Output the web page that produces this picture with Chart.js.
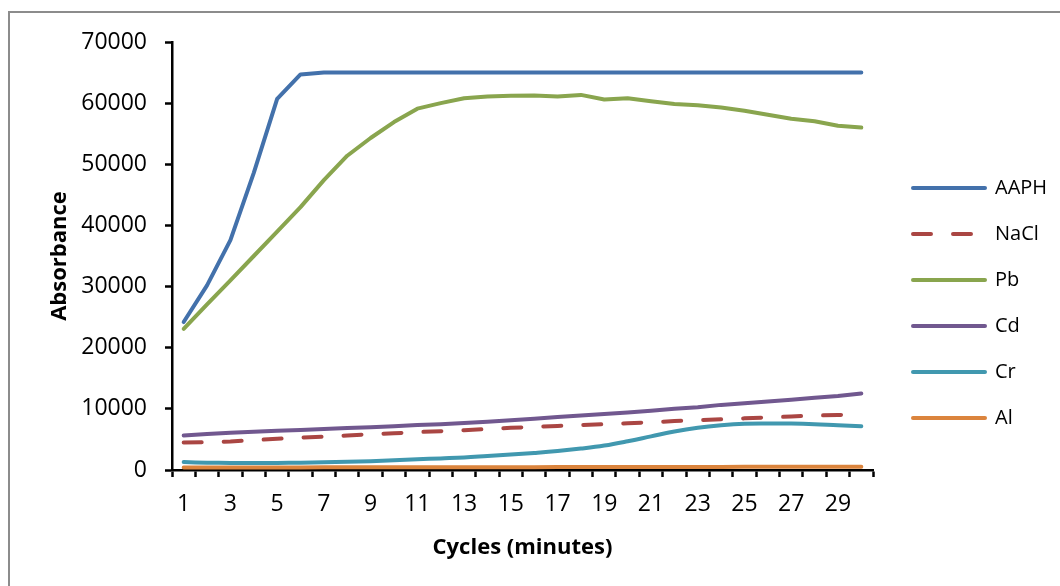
<!DOCTYPE html>
<html>
<head>
<meta charset="utf-8">
<script src="https://cdn.jsdelivr.net/npm/chart.js@4/dist/chart.umd.min.js"></script>
<style>
  html, body { margin: 0; padding: 0; background: #fff; }
  .frame {
    position: absolute; left: 8px; top: 11px;
    width: 1050px; height: 573px;
    border-left: 2px solid #8c8c8c; border-top: 2px solid #8c8c8c;
    background: #fff;
  }
  canvas { display: block; }
</style>
</head>
<body>
<div class="frame"><canvas id="absChart" width="1050" height="573"></canvas></div>
<script>
// Absorbance readings per cycle (minutes 1-30)
const cycles = Array.from({ length: 30 }, (_, i) => String(i + 1));

const aaph = [24200, 30200, 37600, 48600, 60700, 64700, 65000, 65000, 65000, 65000,
              65000, 65000, 65000, 65000, 65000, 65000, 65000, 65000, 65000, 65000,
              65000, 65000, 65000, 65000, 65000, 65000, 65000, 65000, 65000, 65000];
const nacl = [4500, 4550, 4650, 4900, 5100, 5300, 5450, 5650, 5850, 6000,
              6200, 6350, 6500, 6700, 6900, 7050, 7200, 7350, 7500, 7650,
              7800, 8000, 8150, 8300, 8450, 8600, 8750, 8900, 9000, 9100];
const pb   = [23100, 27100, 31000, 35000, 39000, 43000, 47400, 51400, 54300, 56900,
              59100, 60000, 60800, 61100, 61200, 61250, 61100, 61350, 60600, 60800,
              60300, 59850, 59650, 59300, 58750, 58100, 57450, 57050, 56300, 56000];
const cd   = [5650, 5900, 6100, 6250, 6400, 6550, 6700, 6850, 7000, 7150,
              7350, 7500, 7700, 7900, 8150, 8400, 8650, 8900, 9150, 9400,
              9700, 10000, 10250, 10650, 10900, 11200, 11500, 11800, 12100, 12500];
const cr   = [1300, 1200, 1150, 1150, 1150, 1200, 1250, 1350, 1450, 1600,
              1750, 1900, 2050, 2300, 2550, 2800, 3100, 3500, 4000, 4700,
              5500, 6300, 6900, 7300, 7550, 7600, 7600, 7500, 7300, 7150];
const al   = [400, 400, 400, 410, 420, 420, 430, 430, 440, 440,
              450, 450, 460, 460, 470, 470, 480, 480, 490, 490,
              500, 500, 510, 510, 520, 520, 530, 530, 540, 550];

const yTicks = { min: 0, max: 70000, step: 10000 };

const FONT = "'Open Sans', sans-serif";
Chart.defaults.font.family = FONT;
Chart.defaults.color = '#000';

const series = (label, data, color, extra) => Object.assign({
    label,
    data,
    borderColor: color,
    backgroundColor: color,
    borderWidth: 4,
    borderCapStyle: 'round',
    borderJoinStyle: 'round',
    pointRadius: 0,
    pointHoverRadius: 0,
    tension: 0,
    fill: false
}, extra || {});

// nudge the legend to the right of the plot without widening the gap between rows
const legendShift = {
    id: 'legendShift',
    afterLayout(chart) {
        if (chart.legend) {
            chart.legend.left += 14;
            chart.legend.right += 14;
        }
    }
};

// legend swatches: use the dataset line style (dash, width, caps)
const lineLabels = (chart) => {
    const items = Chart.defaults.plugins.legend.labels.generateLabels(chart);
    return items.map((item) => {
        const ds = chart.data.datasets[item.datasetIndex];
        return Object.assign(item, {
            lineDash: ds.borderDash || [],
            lineWidth: ds.borderWidth,
            lineCap: 'round',
            strokeStyle: ds.borderColor
        });
    });
};

new Chart(document.getElementById('absChart').getContext('2d'), {
    type: 'line',
    data: {
        labels: cycles,
        datasets: [
            series('AAPH', aaph, '#4371ab'),
            series('NaCl', nacl, '#aa4643', { borderDash: [18, 22] }),
            series('Pb', pb, '#89a54e'),
            series('Cd', cd, '#71588f'),
            series('Cr', cr, '#4198af', { tension: 0.4 }),
            series('Al', al, '#db843d')
        ]
    },
    options: {
        responsive: false,
        animation: false,
        layout: { padding: { top: 7, left: 0, right: 0, bottom: 0 } },
        plugins: {
            tooltip: { enabled: false },
            legend: {
                position: 'right',
                labels: {
                    usePointStyle: true,
                    pointStyle: 'line',
                    pointStyleWidth: 72,
                    padding: 26,
                    color: '#000',
                    font: { size: 20, family: FONT },
                    generateLabels: lineLabels
                }
            }
        },
        scales: {
            x: {
                type: 'category',
                offset: true,
                grid: {
                    offset: true,
                    drawOnChartArea: false,
                    drawTicks: true,
                    tickLength: 7,
                    tickWidth: 2.5,
                    tickColor: '#000'
                },
                border: { color: '#000', width: 2.5 },
                ticks: {
                    autoSkip: false,
                    maxRotation: 0,
                    padding: 14,
                    color: '#000',
                    font: { size: 23, family: FONT },
                    callback: (val, i) => (i % 2 === 0 ? cycles[i] : '')
                },
                title: {
                    display: true,
                    text: 'Cycles (minutes)',
                    color: '#000',
                    font: { size: 22, weight: 'bold', family: FONT },
                    padding: { top: 0, bottom: 25 }
                },
                afterFit(scale) {
                    scale.height = 116;
                    scale.paddingLeft = 0;
                    scale.paddingRight = 187;
                }
            },
            y: {
                min: yTicks.min,
                max: yTicks.max,
                grid: {
                    drawOnChartArea: false,
                    drawTicks: true,
                    tickLength: 7,
                    tickWidth: 2.5,
                    tickColor: '#000'
                },
                border: { color: '#000', width: 2.5 },
                ticks: {
                    stepSize: yTicks.step,
                    padding: 18,
                    color: '#000',
                    font: { size: 23, family: FONT },
                    callback: (val) => String(val)
                },
                title: {
                    display: true,
                    text: 'Absorbance',
                    color: '#000',
                    font: { size: 22, weight: 'bold', family: FONT },
                    padding: { top: 37, bottom: 0 }
                },
                afterFit(scale) {
                    scale.width = 162;
                    scale.paddingTop = 29;
                }
            }
        }
    },
    plugins: [legendShift]
});
</script>
</body>
</html>
